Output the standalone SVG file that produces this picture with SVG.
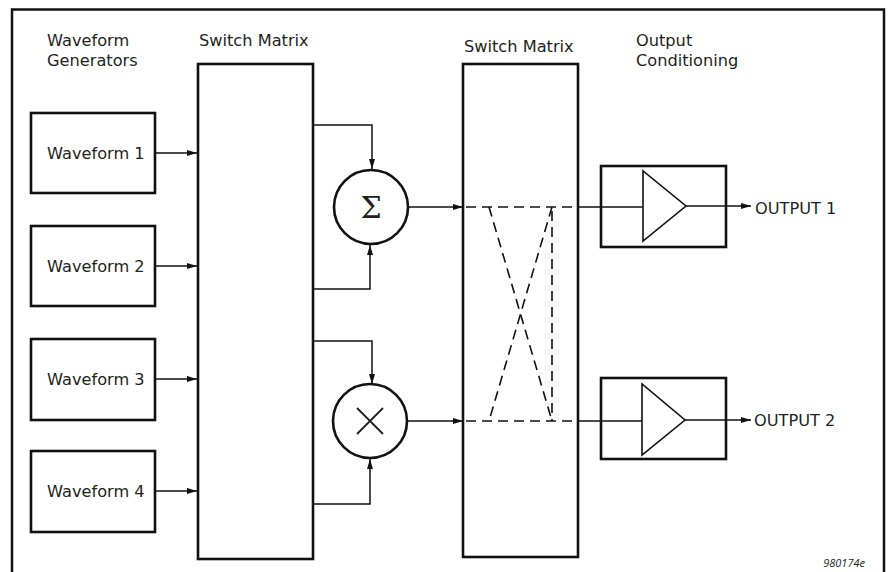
<svg xmlns="http://www.w3.org/2000/svg" width="889" height="572" viewBox="0 0 889 572">
<style>
text{font-family:"DejaVu Sans","Open Sans","Liberation Sans",sans-serif;font-size:16.2px;fill:#231f20}
.box{fill:#fff;stroke:#111;stroke-width:2.6}
.ln{fill:none;stroke:#111;stroke-width:1.5}
.dash{fill:none;stroke:#111;stroke-width:1.6;stroke-dasharray:10 6}
.tri{fill:#fff;stroke:#111;stroke-width:1.6;stroke-linejoin:miter}
</style>
<defs>
<marker id="ah" viewBox="0 0 10 6" refX="10" refY="3" markerWidth="10" markerHeight="6" markerUnits="userSpaceOnUse" orient="auto"><path d="M0,0L10,3L0,6z" fill="#111"/></marker>
</defs>
<rect x="0" y="0" width="889" height="572" fill="#fff"/>
<path d="M12,575V9.5H884V575" fill="none" stroke="#111" stroke-width="2.5"/>
<g id="labels">
<text x="47" y="46">Waveform</text>
<text x="47" y="66">Generators</text>
<text x="199" y="46">Switch Matrix</text>
<text x="464" y="52">Switch Matrix</text>
<text x="636" y="46">Output</text>
<text x="636" y="66">Conditioning</text>
<text x="865" y="567" text-anchor="end" style="font-family:'Open Sans','Noto Sans',sans-serif;font-style:italic;font-size:11px">980174e</text>
</g>
<g id="wf1"><rect class="box" x="31" y="113" width="124" height="80"/><text x="47" y="159">Waveform 1</text></g>
<g id="wf2"><rect class="box" x="31" y="226" width="124" height="80"/><text x="47" y="272">Waveform 2</text></g>
<g id="wf3"><rect class="box" x="31" y="339" width="124" height="81"/><text x="47" y="385">Waveform 3</text></g>
<g id="wf4"><rect class="box" x="31" y="451" width="124" height="81"/><text x="47" y="497">Waveform 4</text></g>
<g id="sm1"><rect class="box" x="198" y="64" width="115" height="495"/></g>
<g id="sm2"><rect class="box" x="463" y="64" width="115" height="493"/></g>
<g id="sum"><circle class="box" cx="371" cy="207" r="37"/><text x="371" y="218" text-anchor="middle" style="font-family:'DejaVu Serif','Liberation Serif',serif;font-size:30px">Σ</text></g>
<g id="mul"><circle class="box" cx="370" cy="421" r="37"/><path d="M357,408L383,434M383,408L357,434" stroke="#231f20" stroke-width="1.8" fill="none"/></g>
<g id="amp1"><rect class="box" x="601" y="166" width="125" height="81"/><path class="tri" d="M643,171V241L686,206Z"/></g>
<g id="amp2"><rect class="box" x="601" y="378" width="125" height="81"/><path class="tri" d="M642,384V455L685,420Z"/></g>
<g id="out-labels">
<text x="755" y="214">OUTPUT 1</text>
<text x="754" y="426">OUTPUT 2</text>
</g>
<g id="connectors">
<path class="ln" d="M155,153H197" marker-end="url(#ah)"/>
<path class="ln" d="M155,266H197" marker-end="url(#ah)"/>
<path class="ln" d="M155,379H197" marker-end="url(#ah)"/>
<path class="ln" d="M155,491H197" marker-end="url(#ah)"/>
<path class="ln" d="M313,125H372V169" marker-end="url(#ah)"/>
<path class="ln" d="M313,289H370V245" marker-end="url(#ah)"/>
<path class="ln" d="M313,341H372V384" marker-end="url(#ah)"/>
<path class="ln" d="M313,504H370V459" marker-end="url(#ah)"/>
<path class="ln" d="M408,207H463" marker-end="url(#ah)"/>
<path class="ln" d="M407,421H463" marker-end="url(#ah)"/>
<path class="dash" d="M466,207H578"/>
<path class="dash" d="M466,421H578"/>
<path class="dash" d="M489,207L552,421"/>
<path class="dash" d="M552,207L489,421"/>
<path class="dash" d="M552,211V421"/>
<path class="ln" d="M578,207H643"/>
<path class="ln" d="M578,421H642"/>
<path class="ln" d="M686,206H751" marker-end="url(#ah)"/>
<path class="ln" d="M685,420H751" marker-end="url(#ah)"/>
</g>
</svg>
